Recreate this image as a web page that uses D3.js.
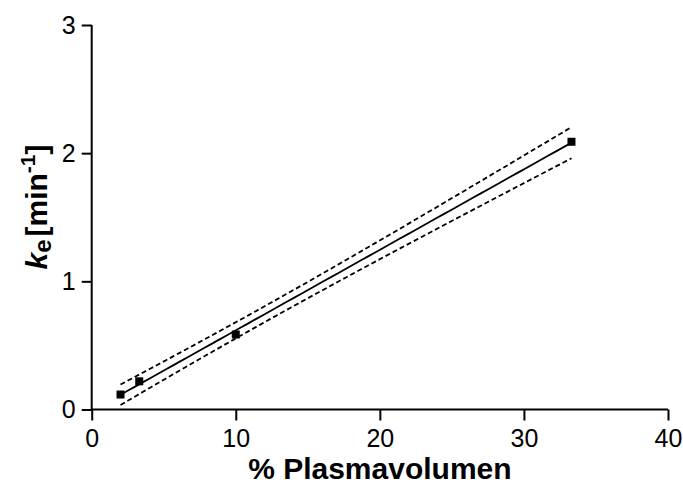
<!DOCTYPE html>
<html>
<head>
<meta charset="utf-8">
<script src="https://cdn.jsdelivr.net/npm/d3@7"></script>
<style>
  html, body { margin: 0; padding: 0; background: #fff; }
  svg { display: block; font-family: "Liberation Sans", Arial, sans-serif; }
</style>
</head>
<body>
<svg id="chart" width="683" height="486"></svg>
<script>
// Measured elimination constants vs. plasma volume fraction
const plasmaPercent = [2.0, 3.3, 10.0, 33.3];
const keValues = [0.117, 0.22, 0.585, 2.089];
const xTicks = [0, 10, 20, 30, 40];
const yTicks = [0, 1, 2, 3];

const svg = d3.select("#chart");
const x = d3.scaleLinear().domain([0, 40]).range([91.7, 668]);
const y = d3.scaleLinear().domain([0, 3]).range([409.5, 25]);

// Linear regression with 95% confidence band of the mean
const n = plasmaPercent.length;
const mx = d3.mean(plasmaPercent), my = d3.mean(keValues);
let sxx = 0, sxy = 0;
plasmaPercent.forEach((xi, i) => { sxx += (xi - mx) ** 2; sxy += (xi - mx) * (keValues[i] - my); });
const slope = sxy / sxx, icpt = my - slope * mx;
let sse = 0;
plasmaPercent.forEach((xi, i) => { sse += (keValues[i] - (icpt + slope * xi)) ** 2; });
const s = Math.sqrt(sse / (n - 2));
const tCrit = 4.303; // t(0.975, df = 2)
const x0 = d3.min(plasmaPercent), x1 = d3.max(plasmaPercent);
const grid = d3.range(0, 61).map(i => x0 + (x1 - x0) * i / 60);
const band = grid.map(xv => {
  const fit = icpt + slope * xv;
  const half = tCrit * s * Math.sqrt(1 / n + (xv - mx) ** 2 / sxx);
  return { x: xv, fit, lo: fit - half, hi: fit + half };
});

// Axes
const xAxis = d3.axisBottom(x).tickValues(xTicks).tickSize(11).tickPadding(9).tickFormat(d3.format("d"));
const yAxis = d3.axisLeft(y).tickValues(yTicks).tickSize(10).tickPadding(6).tickFormat(d3.format("d"));

const gx = svg.append("g").attr("transform", `translate(0,${y(0)})`).call(xAxis);
const gy = svg.append("g").attr("transform", `translate(${x(0)},0)`).call(yAxis);
[gx, gy].forEach(g => {
  g.select(".domain").attr("stroke", "#000").attr("stroke-width", 2);
  g.selectAll(".tick line").attr("stroke", "#000").attr("stroke-width", 2);
  g.selectAll(".tick text").attr("fill", "#000").style("font-size", "25px")
    .style("font-family", "'Liberation Sans', Arial, sans-serif");
});
gx.select(".domain").attr("d", `M${x(0)},0H${x(40)}`);
gy.select(".domain").attr("d", `M0,${y(0)}V${y(3)}`);

// Confidence band (dashed) and fitted line
const lineOf = key => d3.line().x(d => x(d.x)).y(d => y(d[key]));
["hi", "lo"].forEach(k => {
  svg.append("path").datum(band).attr("d", lineOf(k))
    .attr("fill", "none").attr("stroke", "#000").attr("stroke-width", 1.8)
    .attr("stroke-dasharray", "5,3");
});
svg.append("path").datum(band).attr("d", lineOf("fit"))
  .attr("fill", "none").attr("stroke", "#000").attr("stroke-width", 1.8);

// Data points
const sq = 8;
svg.selectAll("rect.pt").data(plasmaPercent).join("rect").attr("class", "pt")
  .attr("x", (d) => x(d) - sq / 2)
  .attr("y", (d, i) => y(keValues[i]) - sq / 2)
  .attr("width", sq).attr("height", sq).attr("fill", "#000");

// Axis titles
svg.append("text").attr("x", x(20)).attr("y", 479).attr("text-anchor", "middle")
  .style("font-size", "30px").style("font-weight", "bold").attr("fill", "#000")
  .text("% Plasmavolumen");

const yt = svg.append("text").attr("transform", `translate(47,207) rotate(-90)`)
  .attr("text-anchor", "middle").style("font-size", "30px").style("font-weight", "bold").attr("fill", "#000");
yt.append("tspan").style("font-style", "italic").text("k");
yt.append("tspan").attr("dy", 4).style("font-size", "24px").text("e");
yt.append("tspan").attr("dy", -4).attr("dx", 3).text("[min");
yt.append("tspan").attr("dy", -12).style("font-size", "21px").text("-1");
yt.append("tspan").attr("dy", 12).text("]");
</script>
</body>
</html>
